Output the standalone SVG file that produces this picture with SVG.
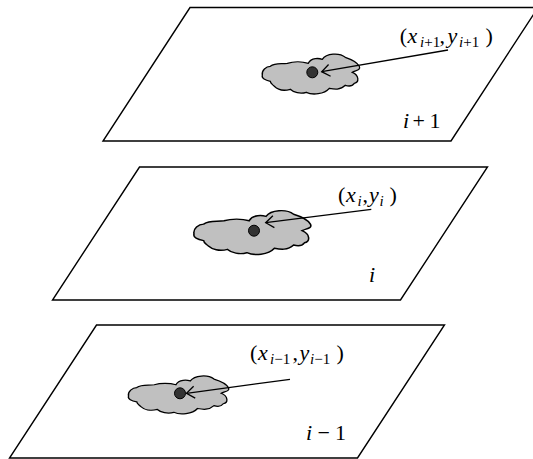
<svg xmlns="http://www.w3.org/2000/svg" width="533" height="459" viewBox="0 0 533 459">
<style>
.plane{fill:#fff;stroke:#000;stroke-width:1.4;stroke-linejoin:miter}
.cloud{fill:#c0c0c0;stroke:#000;stroke-width:1.3}
.dot{fill:#333;stroke:#000;stroke-width:1}
.arr{fill:none;stroke:#000;stroke-width:1.3;marker-end:url(#chev)}
text{font-family:"Liberation Serif","Times New Roman",serif;font-size:22px;fill:#000}
.it{font-style:italic}
.sub{font-size:15px}
</style>
<defs>
<marker id="chev" markerUnits="userSpaceOnUse" viewBox="-10 -8 12 16" refX="0" refY="0" markerWidth="12" markerHeight="16" orient="auto" overflow="visible">
<path d="M-8,-6 L0,0 L-8,6" fill="none" stroke="#000" stroke-width="1.3"/>
</marker>
<path id="cl" d="M-50,3 C-51,-2 -46,-6 -42,-6 C-37,-10 -31,-8 -25,-9 C-19,-11 -10,-11 -4,-9 C-1,-15 7,-14 10,-13 C14,-19 27,-20 33,-15 C39,-13 45,-10 47,-6 C49,-2 43,-2 40,0 C47,3 47,10 42,11 C40,14 36,14 33,13 C28,18 22,17 17,16 C12,22 0,23 -6,20 C-12,22 -19,20 -22,17 C-29,19 -35,17 -38,14 C-40,12 -42,11 -42,9 C-47,8 -51,6 -50,3 Z"/>
</defs>

<g id="plane-top">
<polygon class="plane" points="190,7.5 538,7.5 451,141 103,141"/>
<use href="#cl" class="cloud" transform="translate(312.3,72.3)"/>
<circle class="dot" cx="312.3" cy="72.3" r="5.5"/>
<text><tspan x="399.7" y="43">(</tspan><tspan class="it" x="407.5" y="43">x</tspan><tspan class="sub" x="420" y="47"><tspan class="it">i</tspan>+1</tspan><tspan x="439.5" y="43">,</tspan><tspan class="it" x="447.5" y="43">y</tspan><tspan class="sub" x="459" y="47"><tspan class="it">i</tspan>+1</tspan><tspan x="485.5" y="43">)</tspan></text>
<text><tspan class="it" x="403" y="127.7">i</tspan><tspan x="412.5" y="127.7">+</tspan><tspan x="429.5" y="127.7">1</tspan></text>
</g>

<g id="plane-mid">
<polygon class="plane" points="139.5,167 487.5,167 400.5,300 52.5,300"/>
<use href="#cl" class="cloud" transform="translate(254,230.7) scale(1.2,1.1)"/>
<circle class="dot" cx="254" cy="230.7" r="5.5"/>
<text><tspan x="338" y="201.5">(</tspan><tspan class="it" x="346" y="201.5">x</tspan><tspan class="sub it" x="357.5" y="205.5">i</tspan><tspan x="362.5" y="201.5">,</tspan><tspan class="it" x="369" y="201.5">y</tspan><tspan class="sub it" x="379.5" y="205.5">i</tspan><tspan x="389.5" y="201.5">)</tspan></text>
<text class="it" x="369" y="282.3">i</text>
</g>

<g id="plane-bot">
<polygon class="plane" points="96.5,325 444.5,325 357.5,458 9.5,458"/>
<use href="#cl" class="cloud" transform="translate(180,393.3) scale(1.03,0.95)"/>
<circle class="dot" cx="180" cy="393.3" r="5.5"/>
<text><tspan x="250" y="360">(</tspan><tspan class="it" x="258" y="360">x</tspan><tspan class="sub" x="270" y="364"><tspan class="it">i</tspan>−1</tspan><tspan x="292.5" y="360">,</tspan><tspan class="it" x="299.5" y="360">y</tspan><tspan class="sub" x="310" y="364"><tspan class="it">i</tspan>−1</tspan><tspan x="336.5" y="360">)</tspan></text>
<text><tspan class="it" x="306" y="440">i</tspan><tspan x="317.5" y="440">−</tspan><tspan x="335" y="440">1</tspan></text>
</g>

<g id="connectors">
<line class="arr" x1="448" y1="50" x2="321.7" y2="71.7"/>
<line class="arr" x1="371.3" y1="209.3" x2="265.7" y2="222.7"/>
<line class="arr" x1="290" y1="379.3" x2="186.5" y2="393.3"/>
</g>
</svg>
